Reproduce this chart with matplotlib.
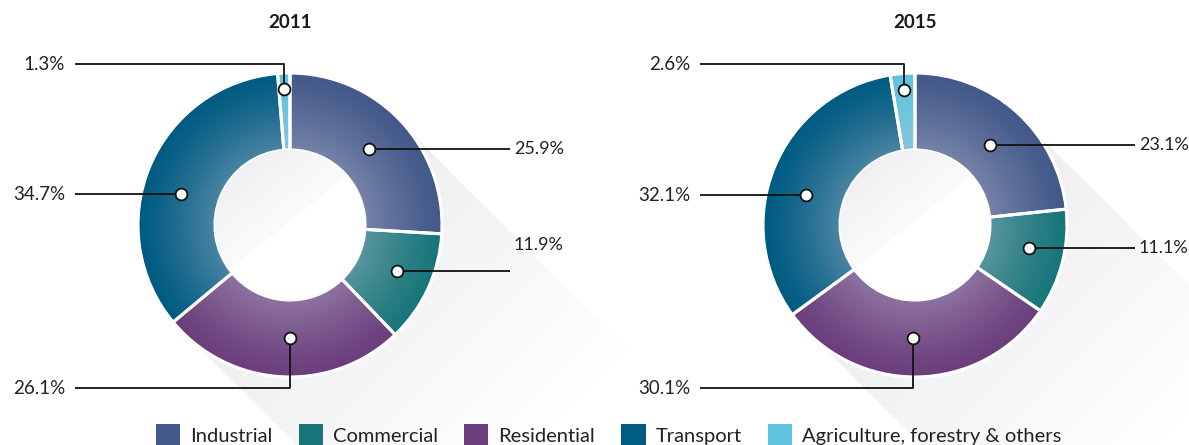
import numpy as np
import matplotlib.pyplot as plt
from matplotlib.patches import Polygon, Circle, Patch
from matplotlib.colors import to_rgb

plt.rcParams['font.family'] = ['Lato', 'DejaVu Sans']

# data
years = ['2011', '2015']
sectors = ['Industrial', 'Commercial', 'Residential', 'Transport',
           'Agriculture, forestry & others']
share_2011 = [25.9, 11.9, 26.1, 34.7, 1.3]
share_2015 = [23.1, 11.1, 30.1, 32.1, 2.6]
colors = ['#44598a', '#18767a', '#6b3f7d', '#005b82', '#60c3de']

W, H = 1189, 445
fig = plt.figure(figsize=(W / 100, H / 100), dpi=100)
ax = fig.add_axes([0, 0, 1, 1])

R, r = 151, 75
centers = [(290, 220), (915, 220)]
# how each label leaves the ring: 'h' straight across, 'up'/'down' elbow
routes = ['h', 'h', 'down', 'h', 'up']
dot_radius = [0.45, 0.55, 0.5, 0.5, 0.8]   # fraction across the ring
dot_nudge = [[0.6, 1.7, 3, 7, 0], [-1.2, 2.6, -1.8, 6.8, 0]]  # degrees
label_dy = [[0, 26, 0, 0, 0], [0, 0, 0, 0, 0]]


def mix(c1, c2, t):
    a, b = np.array(to_rgb(c1)), np.array(to_rgb(c2))
    return tuple(a * (1 - t) + b * t)


yy, xx = np.mgrid[0:H, 0:W] + 0.5
d = np.array([1, -1]) / np.sqrt(2)

for (cx, cy) in centers:
    # long shadow toward lower right
    p1 = np.array([cx, cy]) + R * np.array([0.707, 0.707])
    p2 = np.array([cx, cy]) + R * np.array([-0.707, -0.707])
    L = 420
    poly = Polygon([p1, p1 + L * d, p2 + L * d, p2], closed=True,
                   facecolor='none', edgecolor='none')
    ax.add_patch(poly)
    proj = ((xx - cx) * d[0] + (yy - cy) * d[1])
    a = np.clip(1 - proj / 340, 0, 1) * 0.11
    img = np.zeros((H, W, 4))
    img[..., 0] = 0.35
    img[..., 1] = 0.36
    img[..., 2] = 0.5
    img[..., 3] = a
    im = ax.imshow(img, extent=(0, W, 0, H), origin='lower', zorder=1,
                   interpolation='bilinear')
    im.set_clip_path(poly)

for k, (vals, (cx, cy)) in enumerate(zip([share_2011, share_2015], centers)):
    n = 30
    for i in range(n):
        t = i / (n - 1)
        rout = r + (R - r) * (i + 1) / n
        ring_cols = [mix(c, '#c4c6d6', 0.38 * (1 - t) ** 1.2) for c in colors]
        ax.pie(vals, radius=rout, center=(cx, cy), startangle=90,
               counterclock=False, colors=ring_cols,
               wedgeprops=dict(width=(R - r) / n + 0.8, linewidth=0, zorder=2))
    ax.pie(vals, radius=R + 1, center=(cx, cy), startangle=90,
           counterclock=False,
           wedgeprops=dict(width=R - r + 1, facecolor='none',
                           edgecolor='white', linewidth=2.2, zorder=3))

    # hole with soft inner shading
    hole = Circle((cx, cy), r, facecolor='white', edgecolor='none', zorder=3)
    ax.add_patch(hole)
    dh = np.array([1.0, -1.25]) / np.hypot(1.0, 1.25)
    proj = ((xx - cx) * dh[0] + (yy - cy) * dh[1])
    g = np.where(proj < -3, 0.025 + 0.075 * np.clip(-proj / r, 0, 1), 0.0)
    img = np.zeros((H, W, 4))
    img[..., 0] = 0.4
    img[..., 1] = 0.4
    img[..., 2] = 0.5
    img[..., 3] = g
    im = ax.imshow(img, extent=(0, W, 0, H), origin='lower', zorder=4,
                   interpolation='bilinear')
    im.set_clip_path(hole)

    ax.text(cx, H - 22, years[k], ha='center', va='center', fontsize=13.5,
            fontweight='bold', color='#1a1a1a')

    # leader lines and labels
    total = sum(vals)
    cum = np.cumsum([0] + vals[:-1])
    for j, v in enumerate(vals):
        mid = 90 - 360 * (cum[j] + v / 2) / total + dot_nudge[k][j]
        rm = r + (R - r) * dot_radius[j]
        px = cx + rm * np.cos(np.radians(mid))
        py = cy + rm * np.sin(np.radians(mid))
        side = 1 if (px > cx and routes[j] == 'h') else -1
        xend = cx + 220 if side > 0 else cx - 215
        if routes[j] == 'h':
            xs, ys = [px, xend], [py, py]
            ly = py
        else:
            yel = cy + (161 if routes[j] == 'up' else -163)
            xs, ys = [px, px, xend], [py, yel, yel]
            ly = yel
        ax.plot(xs, ys, color='#111111', lw=1.3, zorder=5,
                solid_capstyle='butt')
        ax.plot(px, py, 'o', ms=8.5, mfc='white', mec='#111111', mew=1.3,
                zorder=6)
        lab = f'{v:.1f}%'
        if side > 0:
            ax.text(xend + 4, ly + label_dy[k][j], lab, ha='left',
                    va='center', fontsize=13, color='#222222')
        else:
            ax.text(xend - 10, ly, lab, ha='right', va='center',
                    fontsize=13.5, color='#222222')

handles = [Patch(facecolor=c, edgecolor='none', label=s)
           for c, s in zip(colors, sectors)]
ax.legend(handles=handles, loc='lower center', bbox_to_anchor=(0.512, -0.045),
          ncol=5, frameon=False, fontsize=14.5, handlelength=1.2,
          handleheight=1.35, handletextpad=0.5, columnspacing=1.3,
          labelcolor='#222222')

ax.set_xlim(0, W)
ax.set_ylim(0, H)
ax.set_aspect('equal')
ax.axis('off')

fig.savefig('out.png', dpi=100, facecolor='white')
